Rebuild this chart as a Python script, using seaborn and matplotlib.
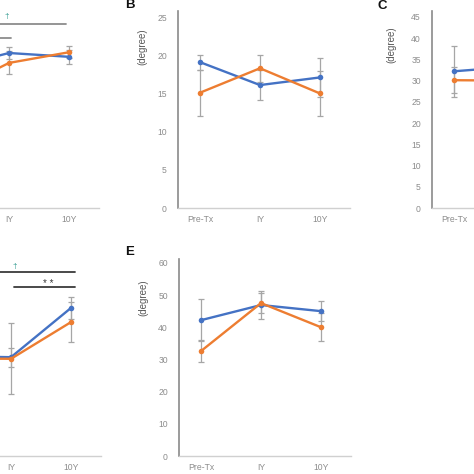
import numpy as np
import pandas as pd
import matplotlib
matplotlib.use("Agg")
import matplotlib.pyplot as plt
import seaborn as sns

# ---------------- data ----------------
categories = ["Pre-Tx", "IY", "10Y"]

a_blue = [18.3, 20.3, 19.8]
a_blue_err = [0.8, 0.8, 0.9]
a_orange = [15.1, 19.0, 20.4]
a_orange_err = [1.5, 1.5, 0.8]

b_blue = [19.1, 16.1, 17.1]
b_blue_err = [1.0, 2.0, 2.5]
b_orange = [15.1, 18.3, 15.0]
b_orange_err = [3.0, 1.8, 3.0]

c_blue = [32.2, 33.3, 35.0]
c_blue_err = [6.0, 4.0, 4.0]
c_orange = [30.1, 30.0, 31.0]
c_orange_err = [3.0, 3.0, 3.0]

d_blue = [31.0, 30.7, 46.0]
d_blue_err = [3.0, 3.0, 3.4]
d_orange = [30.3, 30.2, 41.6]
d_orange_err = [6.0, 11.0, 6.2]

e_blue = [42.2, 46.9, 45.0]
e_blue_err = [6.6, 4.3, 3.1]
e_orange = [32.6, 47.5, 40.0]
e_orange_err = [3.3, 3.0, 4.3]

b_yticks = [0, 5, 10, 15, 20, 25]
c_yticks = [0, 5, 10, 15, 20, 25, 30, 35, 40, 45]
e_yticks = [0, 10, 20, 30, 40, 50, 60]

# ---------------- style ----------------
sns.set_style("white")
plt.rcParams["font.family"] = ["Liberation Sans", "DejaVu Sans"]

BLUE = "#4472C4"
ORANGE = "#ED7D31"
W = H = 474
fig = plt.figure(figsize=(4.74, 4.74), dpi=100)


def px_axes(left, right, top, bottom):
    return fig.add_axes([left / W, 1 - bottom / H, (right - left) / W, (bottom - top) / H])


def panel(left, right, top, bottom, ylim, blue, blue_err, orange, orange_err, yticks=None):
    ax = px_axes(left, right, top, bottom)
    x = np.arange(len(categories))
    for vals, errs in ((blue, blue_err), (orange, orange_err)):
        ax.errorbar(x, vals, yerr=errs, fmt="none", ecolor="#a6a6a6",
                    elinewidth=0.9, capsize=2, capthick=0.9, zorder=1)
    df = pd.DataFrame({
        "x": np.concatenate([x, x]),
        "y": list(blue) + list(orange),
        "s": ["blue"] * len(x) + ["orange"] * len(x),
    })
    sns.lineplot(data=df, x="x", y="y", hue="s", palette={"blue": BLUE, "orange": ORANGE},
                 marker="o", markersize=4, markeredgewidth=0, linewidth=1.7,
                 legend=False, ax=ax, zorder=3)
    ax.set_xlim(-0.367, 2.5)
    ax.set_ylim(*ylim)
    ax.set_xticks(x)
    # hide category labels that fall completely outside the (cropped) canvas
    visible = []
    ppu = (right - left) / (2.5 + 0.367)
    for i, c in enumerate(categories):
        cx = left + (i + 0.367) * ppu
        visible.append(c if -5 < cx < W + 5 else "")
    ax.set_xticklabels(visible)
    if yticks is not None:
        ax.set_yticks(yticks)
    else:
        ax.set_yticks([])
    ax.set_xlabel("")
    ax.set_ylabel("")
    for s in ("top", "right"):
        ax.spines[s].set_visible(False)
    ax.spines["left"].set_color("#8a8a8a")
    ax.spines["left"].set_linewidth(1.2)
    ax.spines["bottom"].set_color("#d0d0d0")
    ax.spines["bottom"].set_linewidth(1.0)
    ax.tick_params(axis="both", length=0, labelsize=6.2, colors="#8c8c8c")
    ax.tick_params(axis="y", pad=8)
    ax.tick_params(axis="x", pad=5)
    ax.patch.set_alpha(0)
    return ax


axA = panel(-73, 99, 11, 208, (0, 25.8), a_blue, a_blue_err, a_orange, a_orange_err)
axB = panel(178, 350, 11, 208, (0, 25.8), b_blue, b_blue_err, b_orange, b_orange_err, b_yticks)
axC = panel(432, 604, 11, 208, (0, 46.4), c_blue, c_blue_err, c_orange, c_orange_err, c_yticks)
axD = panel(-71, 101, 259, 456, (0, 61.2), d_blue, d_blue_err, d_orange, d_orange_err)
axE = panel(179, 351, 259, 456, (0, 61.2), e_blue, e_blue_err, e_orange, e_orange_err, e_yticks)

# significance marks
TEAL = "#2f9a8f"
axA.plot([-0.1, 1.95], [24.1, 24.1], color="#8c8c8c", lw=1.3, clip_on=False)
axA.plot([-0.1, 1.03], [22.3, 22.3], color="#8c8c8c", lw=1.3, clip_on=False)
axA.text(0.97, 24.6, "†", color=TEAL, fontsize=6, ha="center", va="bottom")

axD.plot([-0.1, 2.07], [57.1, 57.1], color="#3a3a3a", lw=1.3, clip_on=False)
axD.plot([1.05, 2.07], [52.5, 52.5], color="#3a3a3a", lw=1.3, clip_on=False)
axD.text(1.07, 57.8, "†", color=TEAL, fontsize=6, ha="center", va="bottom")
axD.text(1.62, 52.0, "* *", color="#3a3a3a", fontsize=7, ha="center", va="bottom")

# y labels and panel letters
for (xp, yp) in ((142, 47), (391, 45), (143, 298)):
    fig.text(xp / W, 1 - yp / H, "(degree)", rotation=90, ha="center", va="center",
             fontsize=7, color="#595959")
for (xp, yp, t) in ((130, 5, "B"), (382, 6, "C"), (130, 252, "E")):
    fig.text(xp / W, 1 - yp / H, t, ha="center", va="center", fontsize=9.5,
             fontweight="bold", color="#111111")

fig.savefig("out.png", dpi=100)
